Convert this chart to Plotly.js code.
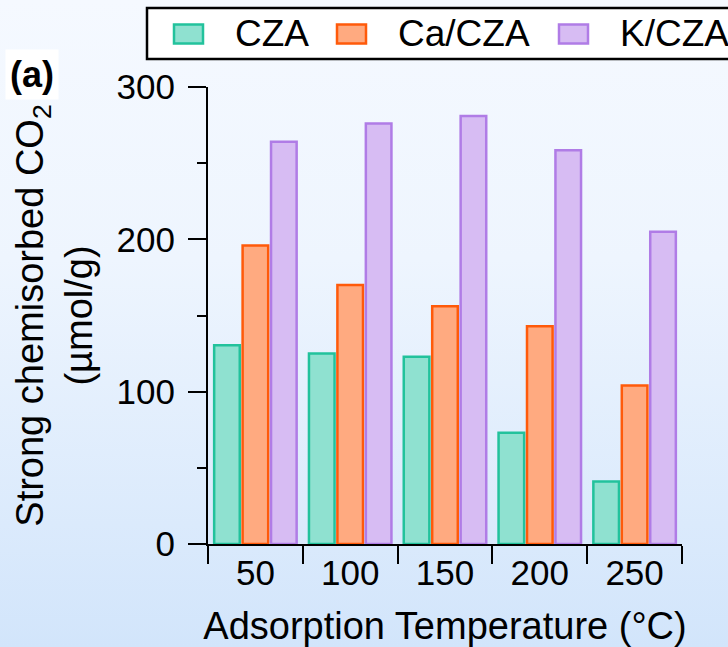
<!DOCTYPE html>
<html>
<head>
<meta charset="utf-8">
<script src="https://cdn.plot.ly/plotly-3.0.1.min.js"></script>
<style>
  html, body { margin: 0; padding: 0; width: 728px; height: 647px; overflow: hidden; }
  body { background: linear-gradient(to bottom, #f5f9ff 0%, #eef5fe 40%, #d2e5fb 100%); }
  #chart { width: 728px; height: 647px; }
</style>
</head>
<body>
<div id="chart"></div>
<script>
// ---- data ----
const categories = ['50', '100', '150', '200', '250'];
const seriesNames = ['CZA', 'Ca/CZA', 'K/CZA'];
const czaValues = [130.5, 125, 123, 73, 41];
const caCzaValues = [196, 170, 156, 143, 104];
const kCzaValues = [264, 276, 281, 258.5, 205];
const yTickVals = [0, 100, 200, 300];

// ---- styles ----
const fillColors = ['#8fe1d0', '#ffaa80', '#d7bcf3'];
const lineColors = ['#22c29c', '#ff5a0a', '#b07ce6'];
const FONT = 'Liberation Sans, Arial, Helvetica, sans-serif';

const W = 728, H = 647;
const M = { l: 208, r: 46, t: 87, b: 103 };
const PW = W - M.l - M.r, PH = H - M.t - M.b;
const px = v => (v - M.l) / PW;
const py = v => (H - M.b - v) / PH;

const values = [czaValues, caCzaValues, kCzaValues];
const traces = values.map((vals, i) => ({
  type: 'bar',
  name: seriesNames[i],
  x: categories,
  y: vals,
  marker: { color: fillColors[i], line: { color: lineColors[i], width: 2.5 } },
  showlegend: false,
  hoverinfo: 'x+y+name'
}));

// custom legend (bigger swatches like the original)
const swatchX = [174, 337, 559];
const textX = [233, 396, 618];
const shapes = [{
  type: 'rect', xref: 'paper', yref: 'paper', layer: 'above',
  x0: px(147), x1: px(820), y0: py(59), y1: py(8),
  fillcolor: '#ffffff', line: { color: '#000000', width: 2.5 }
}];
const annotations = [];
seriesNames.forEach((n, i) => {
  shapes.push({
    type: 'rect', xref: 'paper', yref: 'paper', layer: 'above',
    x0: px(swatchX[i]), x1: px(swatchX[i] + 29), y0: py(43.5), y1: py(24.5),
    fillcolor: fillColors[i], line: { color: lineColors[i], width: 2.5 }
  });
  annotations.push({
    xref: 'paper', yref: 'paper', x: px(textX[i]), y: py(33),
    xanchor: 'left', yanchor: 'middle', showarrow: false, text: n,
    font: { family: FONT, size: 37, color: '#000' }
  });
});
annotations.push({
  xref: 'paper', yref: 'paper', x: px(32), y: py(75),
  xanchor: 'center', yanchor: 'middle', showarrow: false, text: '<b>(a)</b>',
  bgcolor: '#ffffff', borderpad: 4,
  font: { family: FONT, size: 36, color: '#000' }
});

const layout = {
  width: W, height: H,
  margin: { l: M.l, r: M.r, t: M.t, b: M.b, autoexpand: false },
  paper_bgcolor: 'rgba(0,0,0,0)',
  plot_bgcolor: 'rgba(0,0,0,0)',
  font: { family: FONT, size: 35, color: '#000' },
  barmode: 'group',
  bargap: 0.1,
  bargroupgap: 0.1,
  showlegend: false,
  xaxis: {
    type: 'category',
    automargin: false,
    tickson: 'boundaries',
    ticks: 'outside', ticklen: 18, tickwidth: 2, tickcolor: '#000',
    showline: true, linecolor: '#000', linewidth: 2,
    showgrid: false, zeroline: false,
    ticklabelstandoff: -3,
    tickfont: { family: FONT, size: 35, color: '#000' },
    title: { text: 'Adsorption Temperature (°C)', font: { family: FONT, size: 38, color: '#000' }, standoff: 22 }
  },
  yaxis: {
    range: [0, 300],
    automargin: false,
    tickvals: yTickVals,
    ticks: 'outside', ticklen: 18, tickwidth: 2, tickcolor: '#000',
    minor: { dtick: 50, ticks: 'outside', ticklen: 9, tickwidth: 2, tickcolor: '#000', showgrid: false },
    showline: true, linecolor: '#000', linewidth: 2,
    showgrid: false, zeroline: false,
    ticklabelstandoff: 6,
    tickfont: { family: FONT, size: 35, color: '#000' },
    title: { text: 'Strong chemisorbed CO<sub>2</sub><br>(µmol/g)', font: { family: FONT, size: 38, color: '#000' }, standoff: 12 }
  },
  shapes: shapes,
  annotations: annotations
};

Plotly.newPlot('chart', traces, layout, { displayModeBar: false, staticPlot: true });
</script>
</body>
</html>
